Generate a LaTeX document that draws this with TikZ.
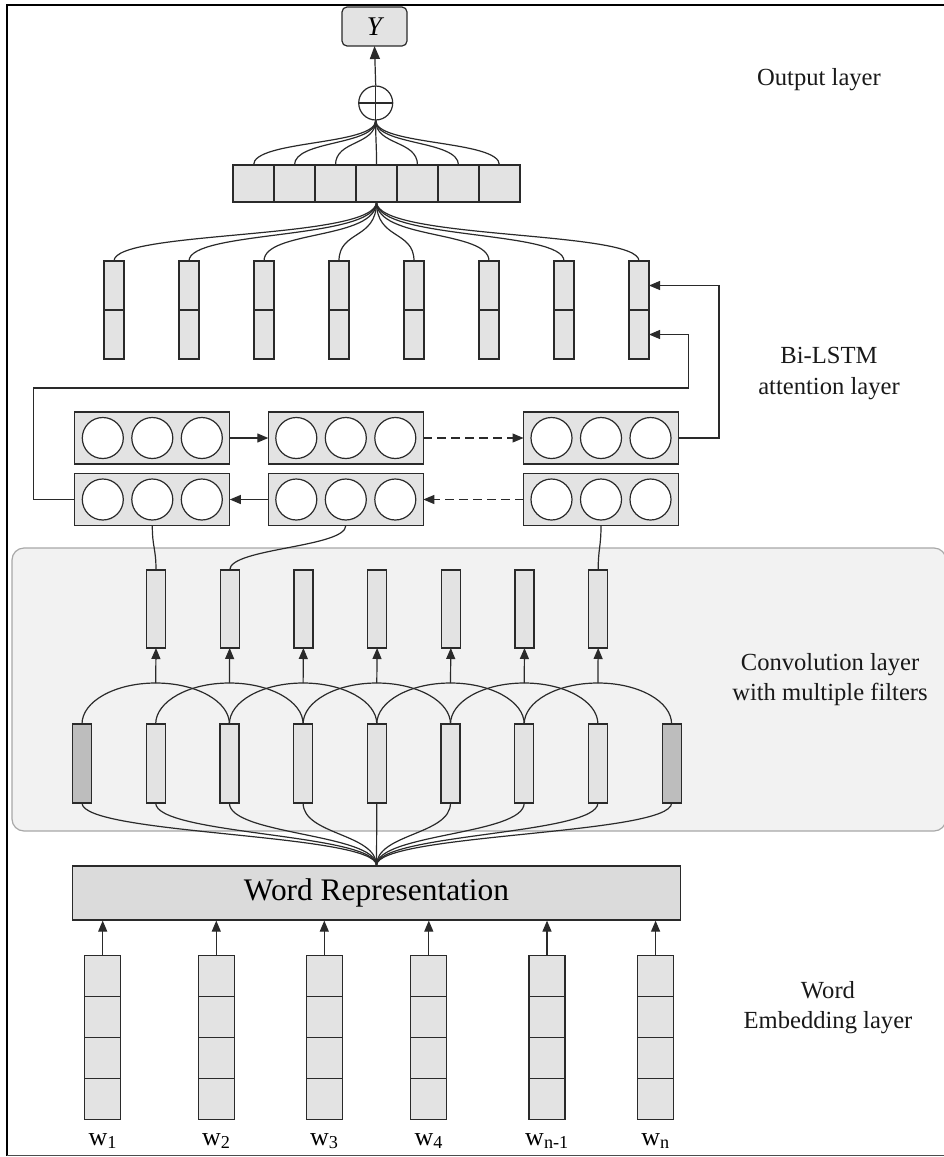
\documentclass[tikz,border=0pt]{standalone}
\usepackage{fontspec}
\setmainfont{Liberation Serif}
\usetikzlibrary{arrows.meta,calc}
\definecolor{cellgray}{HTML}{E3E3E3}
\definecolor{darkbar}{HTML}{BDBDBD}
\definecolor{wrgray}{HTML}{DBDBDB}
\definecolor{convbg}{HTML}{F2F2F2}
\definecolor{convedge}{HTML}{A8A8A8}
\definecolor{edge}{HTML}{2A2A2A}
\begin{document}
\begin{tikzpicture}[x=1pt,y=-1pt,
  cellbox/.style={draw=edge, fill=cellgray, inner sep=0pt, outer sep=0pt, line width=1.2pt},
  tip/.style={-{Triangle[length=11pt,width=9pt]}},
  bigtip/.style={-{Triangle[length=13pt,width=10pt]}},
  conn/.style={draw=edge, line width=1.2pt},
  lbl/.style={font=\fontsize{24.6}{30.5}\selectfont, align=center, text=black!90},
  wlbl/.style={font=\fontsize{26}{28}\selectfont, anchor=base},
  neuron/.style={circle, draw=edge, fill=white, minimum size=41pt, inner sep=0pt, line width=1.2pt},
  plusnode/.style={circle, draw=edge, fill=white, minimum size=34pt, inner sep=0pt, line width=1.2pt,
    path picture={\draw[edge, line width=1.2pt] (path picture bounding box.north) -- (path picture bounding box.south) (path picture bounding box.west) -- (path picture bounding box.east);}},
]
\useasboundingbox (0,0) rectangle (944,1157);

% convolution background
\draw[fill=convbg, draw=convedge, line width=1.2pt, rounded corners=12pt] (12,548) rectangle (946,831);

% frame
\draw[line width=2.2pt] (944,5) -- (7,5) -- (7,1156);

% output
\node[cellbox, rounded corners=5pt, minimum width=65pt, minimum height=39pt, font=\fontsize{27}{30}\selectfont\itshape] (Y) at (374.5,26.5) {Y};
\node[plusnode] (plus) at (375.7,103) {};
\draw[conn,bigtip] (plus.north) -- (Y.south);

\foreach \i in {1,...,7}
  \node[cellbox, minimum width=41pt, minimum height=37pt] (o\i) at ({233+41*(\i-0.5)},183.5) {};
\foreach \i in {1,...,7}
  \draw[conn] (o\i.north) .. controls +(0,-25) and +(0,25) .. (plus.south);

% attention bars
\foreach \k in {1,...,8} {
  \node[cellbox, minimum width=20pt, minimum height=49pt, anchor=north] (at\k) at ({114+75*(\k-1)},261) {};
  \node[cellbox, minimum width=20pt, minimum height=49pt, anchor=north] (ab\k) at (at\k.south) {};
  \draw[conn] (o4.south) .. controls +(0,38) and +(0,-31) .. (at\k.north);
}

% Bi-LSTM boxes
\foreach \n/\x in {1/152.3, 2/345.8, 3/601} {
  \node[cellbox, minimum width=155pt, minimum height=52pt] (f\n) at (\x,438) {};
  \node[cellbox, minimum width=155pt, minimum height=52pt] (g\n) at (\x,499.5) {};
  \foreach \j/\dx in {1/-49.5, 2/0, 3/49.5} {
    \node[neuron] (f\n c\j) at ($(f\n)+(\dx,0)$) {};
    \node[neuron] (g\n c\j) at ($(g\n)+(\dx,0)$) {};
  }
}
\draw[conn,tip] (f1.east) -- (f2.west);
\draw[conn,tip,dash pattern=on 9pt off 5pt] (f2.east) -- (f3.west);
\draw[conn,tip] (g2.west) -- (g1.east);
\draw[conn,tip,dash pattern=on 9pt off 5pt] (g3.west) -- (g2.east);

% loops to last attention bar
\coordinate (ux) at (719,285.5);
\draw[conn,tip] (f3.east) -| (ux) -- (at8.east);
\coordinate (lx) at (33.5,388);
\coordinate (rx) at (688.5,388);
\draw[conn,tip] (g1.west) -| (lx) -- (rx) |- (ab8.east);

% convolution bars
\foreach \k in {1,...,7}
  \node[cellbox, minimum width=19pt, minimum height=78pt] (c\k) at ({156+73.7*(\k-1)},609) {};
\foreach \k in {1,...,9}
  \node[cellbox, minimum width=19pt, minimum height=79pt] (d\k) at ({82+73.7*(\k-1)},763.5) {};
\node[cellbox, fill=darkbar, minimum width=19pt, minimum height=79pt] at (d1) {};
\node[cellbox, fill=darkbar, minimum width=19pt, minimum height=79pt] at (d9) {};

\draw[conn] (g1.south) .. controls +(0,22) and +(0,-22) .. (c1.north);
\draw[conn] (g2.south) .. controls +(0,22) and +(0,-22) .. (c2.north);
\draw[conn] (g3.south) .. controls +(0,22) and +(0,-22) .. (c7.north);

\foreach \k in {1,...,7} {
  \draw[conn] (d\k.north) arc[start angle=180, end angle=0, x radius=73.7pt, y radius=41pt];
  \path (d\k.north) ++(73.7,-41) coordinate (p\k);
  \draw[conn,tip] (p\k) -- (c\k.south);
}

% word representation
\node[draw=edge, fill=wrgray, line width=1.2pt, minimum width=608pt, minimum height=54pt, inner sep=0pt, font=\fontsize{31.4}{34}\selectfont] (wr) at (376.5,893) {Word Representation};
\foreach \k in {1,...,9}
  \draw[conn] (d\k.south) .. controls +(0,32) and +(0,-32) .. (wr.north);

% word embeddings
\foreach \k/\x/\s in {1/102.7/1, 2/216.3/2, 3/324.3/3, 4/428.8/4, 5/547/{n-1}, 6/655.6/n} {
  \node[cellbox, minimum width=36pt, minimum height=41pt, anchor=north] (ea\k) at (\x,955.8) {};
  \node[cellbox, minimum width=36pt, minimum height=41pt, anchor=north] (eb\k) at (ea\k.south) {};
  \node[cellbox, minimum width=36pt, minimum height=41pt, anchor=north] (ec\k) at (eb\k.south) {};
  \node[cellbox, minimum width=36pt, minimum height=41pt, anchor=north] (ed\k) at (ec\k.south) {};
  \draw[conn,tip] (ea\k.north) -- (ea\k.north |- wr.south);
  \node[wlbl] (w\k) at (\x,1145) {w\textsubscript{\s}};
}

% layer labels
\node[lbl] (L1) at (819,80) {Output layer};
\node[lbl] (L2) at (829,373.7) {Bi-LSTM\\attention layer};
\node[lbl] (L3) at (830,679.5) {Convolution layer\\with multiple filters};
\node[lbl] (L4) at (828,1007.7) {Word\\Embedding layer};

\draw[line width=1.5pt, draw=black!70] (7,1155.5) -- (944,1155.5);
\end{tikzpicture}
\end{document}
